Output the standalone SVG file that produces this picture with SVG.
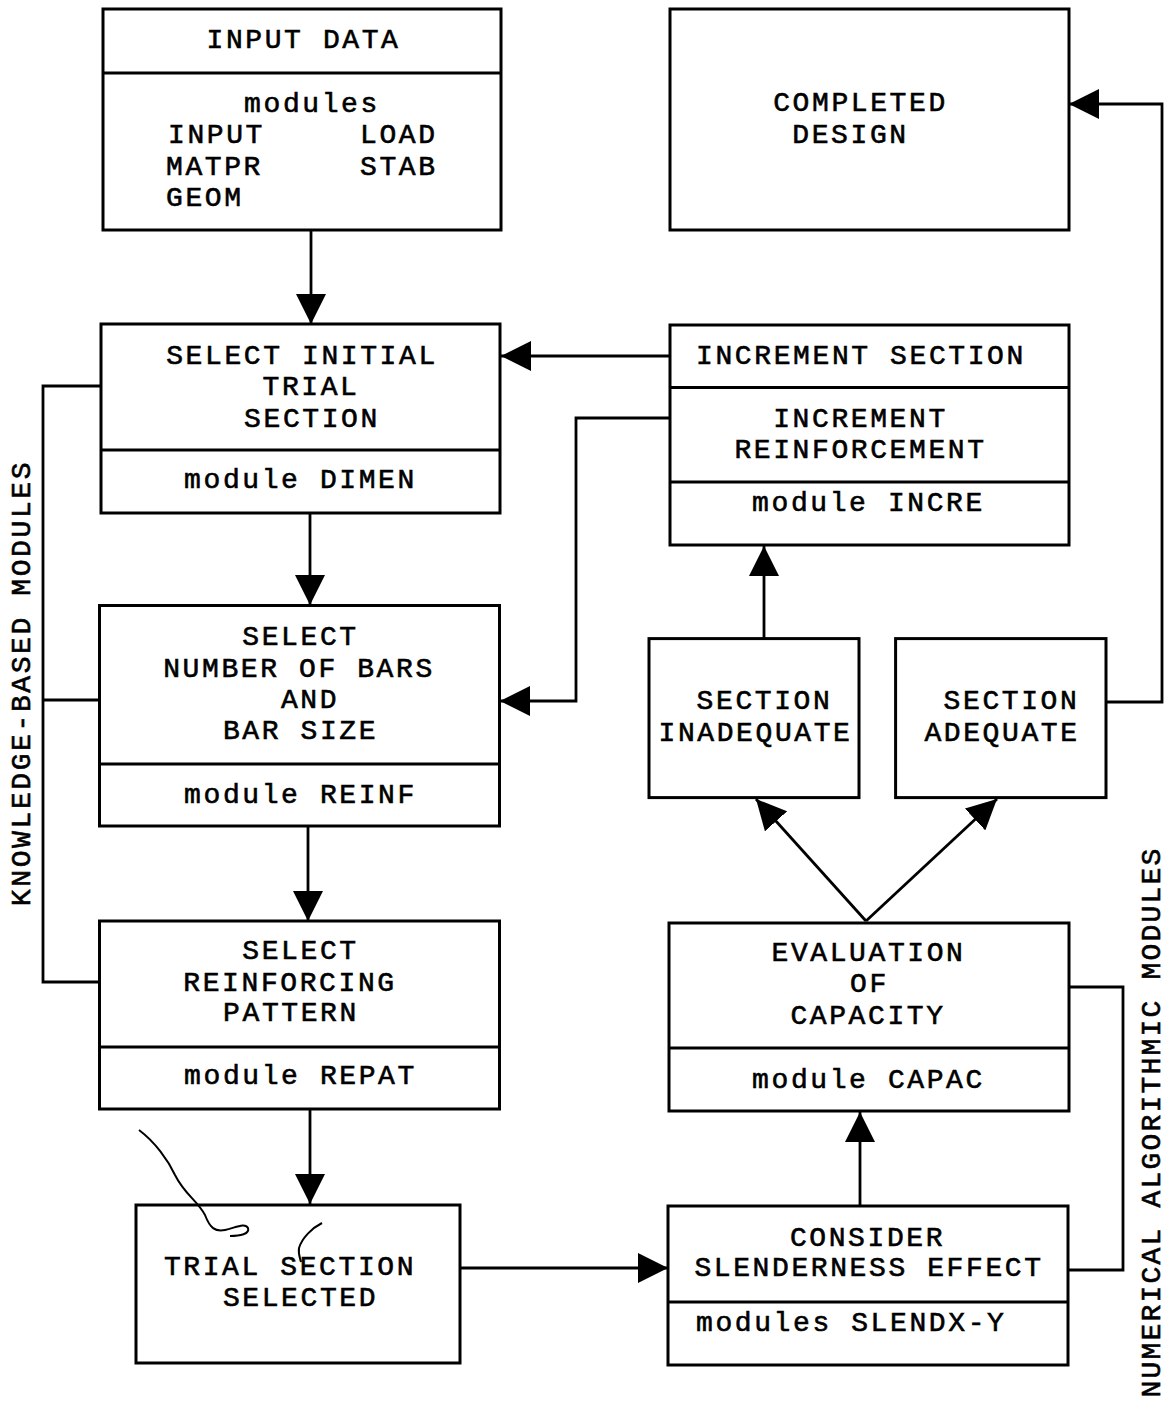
<svg xmlns="http://www.w3.org/2000/svg" width="1167" height="1406" viewBox="0 0 1167 1406">
<style>
.box{fill:#fff;stroke:#000;stroke-width:3}
.div{stroke:#000;stroke-width:3}
.t{font-family:"Courier New","Liberation Mono","DejaVu Sans Mono",monospace;font-size:28px;letter-spacing:2.6px;fill:#000;stroke:#000;stroke-width:0.6;text-anchor:middle}
.s{text-anchor:start}
.c{fill:none;stroke:#000;stroke-width:2.8}
.scr{fill:none;stroke:#000;stroke-width:2}
</style>
<defs>
<marker id="ah" markerUnits="userSpaceOnUse" markerWidth="32" markerHeight="30" refX="30" refY="15" orient="auto">
<path d="M0,0 L30,15 L0,30 Z" fill="#000"/>
</marker>
</defs>
<rect width="1167" height="1406" fill="#fff"/>

<g id="connectors">
<line class="c" x1="311" y1="230" x2="311" y2="324" marker-end="url(#ah)"/>
<line class="c" x1="310" y1="513" x2="310" y2="605" marker-end="url(#ah)"/>
<line class="c" x1="308" y1="826" x2="308" y2="921" marker-end="url(#ah)"/>
<line class="c" x1="310" y1="1109" x2="310" y2="1204" marker-end="url(#ah)"/>
<line class="c" x1="460" y1="1268" x2="668" y2="1268" marker-end="url(#ah)"/>
<line class="c" x1="860" y1="1206" x2="860" y2="1112" marker-end="url(#ah)"/>
<line class="c" x1="866" y1="921" x2="756" y2="799" marker-end="url(#ah)"/>
<line class="c" x1="866" y1="921" x2="997" y2="799" marker-end="url(#ah)"/>
<line class="c" x1="764" y1="638" x2="764" y2="546" marker-end="url(#ah)"/>
<polyline class="c" points="1106,702 1162,702 1162,104 1069,104" marker-end="url(#ah)"/>
<line class="c" x1="670" y1="356" x2="501" y2="356" marker-end="url(#ah)"/>
<polyline class="c" points="670,418 576,418 576,701 500,701" marker-end="url(#ah)"/>
<polyline class="c" points="101,386 43,386 43,982 99,982"/>
<line class="c" x1="43" y1="700" x2="99" y2="700"/>
<polyline class="c" points="1068,987 1123,987 1123,1270 1068,1270"/>
</g>

<g id="input-data">
<rect class="box" x="103" y="9" width="398" height="221"/>
<line class="div" x1="103" y1="73" x2="501" y2="73"/>
<text class="t" x="303.5" y="48">INPUT DATA</text>
<text class="t" x="312" y="112">modules</text>
<text class="t s" x="168" y="143">INPUT</text>
<text class="t s" x="360" y="143">LOAD</text>
<text class="t s" x="166" y="175">MATPR</text>
<text class="t s" x="360" y="175">STAB</text>
<text class="t s" x="166" y="206">GEOM</text>
</g>

<g id="select-initial">
<rect class="box" x="101" y="324" width="399" height="189"/>
<line class="div" x1="101" y1="450" x2="500" y2="450"/>
<text class="t" x="302" y="364">SELECT INITIAL</text>
<text class="t" x="311" y="395">TRIAL</text>
<text class="t" x="312" y="427">SECTION</text>
<text class="t" x="300.5" y="488">module DIMEN</text>
</g>

<g id="select-bars">
<rect class="box" x="99.5" y="605.5" width="400" height="220.5"/>
<line class="div" x1="99.5" y1="764" x2="499.5" y2="764"/>
<text class="t" x="300.5" y="645">SELECT</text>
<text class="t" x="299" y="677">NUMBER OF BARS</text>
<text class="t" x="310" y="708">AND</text>
<text class="t" x="300.5" y="739">BAR SIZE</text>
<text class="t" x="300.5" y="803">module REINF</text>
</g>

<g id="select-pattern">
<rect class="box" x="99.5" y="921" width="400" height="188"/>
<line class="div" x1="99.5" y1="1047" x2="499.5" y2="1047"/>
<text class="t" x="300.5" y="959">SELECT</text>
<text class="t" x="290" y="991">REINFORCING</text>
<text class="t" x="291" y="1021">PATTERN</text>
<text class="t" x="300.5" y="1084">module REPAT</text>
</g>

<g id="trial-selected">
<rect class="box" x="136" y="1205" width="324" height="158"/>
<text class="t" x="290" y="1275">TRIAL SECTION</text>
<text class="t" x="300.5" y="1306">SELECTED</text>
</g>

<g id="slenderness">
<rect class="box" x="668" y="1206" width="400" height="159"/>
<line class="div" x1="668" y1="1302" x2="1068" y2="1302"/>
<text class="t" x="867.5" y="1246">CONSIDER</text>
<text class="t" x="869" y="1276">SLENDERNESS EFFECT</text>
<text class="t s" x="696" y="1331">modules SLENDX-Y</text>
</g>

<g id="capacity">
<rect class="box" x="669" y="923" width="400" height="188"/>
<line class="div" x1="669" y1="1048" x2="1069" y2="1048"/>
<text class="t" x="868.5" y="961">EVALUATION</text>
<text class="t" x="869.5" y="992">OF</text>
<text class="t" x="868" y="1024">CAPACITY</text>
<text class="t" x="868.5" y="1088">module CAPAC</text>
</g>

<g id="inadequate">
<rect class="box" x="649" y="638.6" width="210" height="159"/>
<text class="t" x="764.5" y="709">SECTION</text>
<text class="t" x="755.5" y="741">INADEQUATE</text>
</g>

<g id="adequate">
<rect class="box" x="895.6" y="638.6" width="210.4" height="159"/>
<text class="t" x="1011.5" y="709">SECTION</text>
<text class="t" x="1002" y="741">ADEQUATE</text>
</g>

<g id="increment">
<rect class="box" x="670" y="325" width="399" height="220"/>
<line class="div" x1="670" y1="387.5" x2="1069" y2="387.5"/>
<line class="div" x1="670" y1="482" x2="1069" y2="482"/>
<text class="t" x="861" y="364">INCREMENT SECTION</text>
<text class="t" x="860.5" y="427">INCREMENT</text>
<text class="t" x="860.5" y="458">REINFORCEMENT</text>
<text class="t" x="868.5" y="511">module INCRE</text>
</g>

<g id="completed">
<rect class="box" x="670" y="9" width="399" height="221"/>
<text class="t" x="860.5" y="111">COMPLETED</text>
<text class="t" x="850.5" y="143">DESIGN</text>
</g>

<g id="labels">
<text class="t" transform="translate(30,683) rotate(-90)">KNOWLEDGE-BASED MODULES</text>
<text class="t" style="letter-spacing:2.2px" transform="translate(1160,1122) rotate(-90)">NUMERICAL ALGORITHMIC MODULES</text>
</g>

<g id="marks">
<path class="scr" d="M139,1130 C155,1142 168,1160 175,1175 C185,1195 197,1200 205,1215 C210,1228 215,1232 225,1230 C235,1228 245,1222 248,1228 C250,1234 240,1236 230,1236"/>
<path class="scr" d="M322,1223 C312,1228 302,1238 299,1248 C298,1254 300,1258 301,1262"/>
</g>
</svg>
